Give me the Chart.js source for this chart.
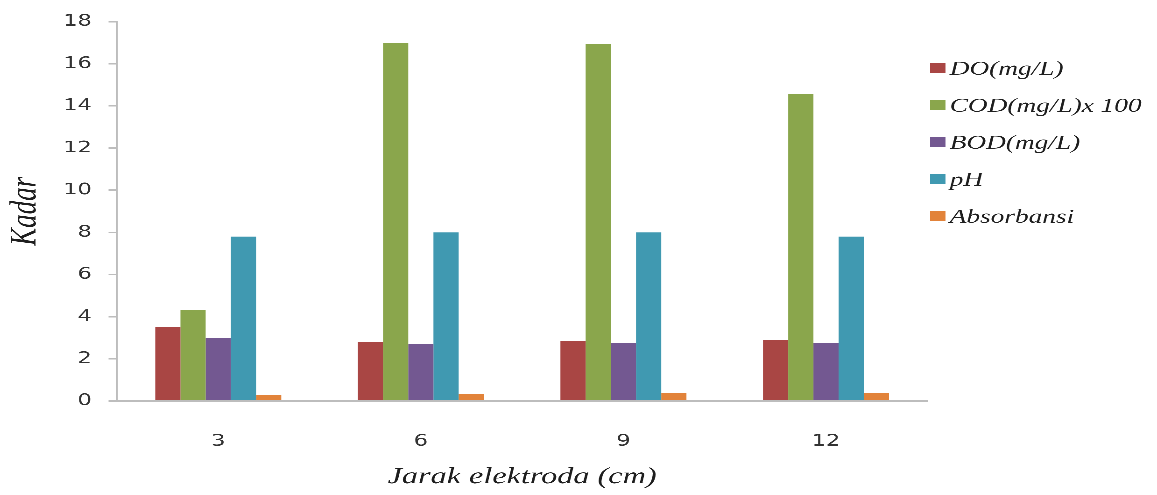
<!DOCTYPE html>
<html>
<head>
<meta charset="utf-8">
<script src="https://cdn.jsdelivr.net/npm/chart.js@4/dist/chart.umd.min.js"></script>
<style>
  html, body { margin: 0; padding: 0; background: #fff; overflow: hidden; }
  /* the chart is laid out on a narrower stage and widened horizontally */
  #stage { width: 826px; height: 495px; transform: scaleX(1.40073); transform-origin: 0 0; }
</style>
</head>
<body>
<div id="stage"><canvas id="c"></canvas></div>
<script>
const categories = ['3', '6', '9', '12'];
const seriesNames = ['DO(mg/L)', 'COD(mg/L)x 100', 'BOD(mg/L)', 'pH', 'Absorbansi'];
const doValues = [3.5, 2.8, 2.85, 2.9];
const codValues = [4.3, 17.0, 16.95, 14.55];
const bodValues = [3.0, 2.7, 2.75, 2.75];
const phValues = [7.8, 8.0, 8.0, 7.8];
const absorbansiValues = [0.28, 0.32, 0.37, 0.37];
const yTicks = [0, 2, 4, 6, 8, 10, 12, 14, 16, 18];
const seriesColors = ['#A94644', '#8AA64C', '#735891', '#4099B1', '#E2833A'];

const seriesValues = [doValues, codValues, bodValues, phValues, absorbansiValues];

// legend drawn to the right of the plot, one entry per dataset
const sideLegend = {
  id: 'sideLegend',
  afterDraw(chart, args, opts) {
    const ctx = chart.ctx;
    ctx.save();
    ctx.font = opts.font;
    ctx.textBaseline = 'middle';
    ctx.textAlign = 'left';
    chart.data.datasets.forEach((ds, i) => {
      const y = opts.y + i * opts.step;
      ctx.fillStyle = ds.backgroundColor;
      ctx.fillRect(opts.x, y - opts.boxH / 2, opts.boxW, opts.boxH);
      ctx.fillStyle = opts.color;
      ctx.fillText(ds.label, opts.x + opts.boxW + opts.gap, y + 1.5);
    });
    ctx.restore();
  }
};

new Chart(document.getElementById('c'), {
  type: 'bar',
  data: {
    labels: categories,
    datasets: seriesNames.map((name, i) => ({
      label: name,
      data: seriesValues[i],
      backgroundColor: seriesColors[i],
      borderWidth: 0,
      categoryPercentage: 0.622,
      barPercentage: 1.0
    }))
  },
  options: {
    responsive: true,
    maintainAspectRatio: false,
    devicePixelRatio: 3,
    animation: false,
    layout: { padding: { top: 19, right: 164, bottom: 0, left: 0 } },
    plugins: {
      legend: { display: false },
      tooltip: { enabled: false },
      sideLegend: {
        x: 664, y: 68, step: 37, boxW: 11, boxH: 10, gap: 3,
        font: 'italic 19.5px "Liberation Serif"', color: '#1e1e1e'
      }
    },
    scales: {
      x: {
        grid: { display: false },
        border: { display: true, color: '#bdbdbd', width: 2 },
        ticks: { color: '#333333', padding: 23, font: { family: '"DejaVu Sans"', size: 16 } },
        title: {
          display: true,
          text: 'Jarak elektroda (cm)',
          color: '#1e1e1e',
          padding: { top: 4, bottom: 4 },
          font: { family: '"Liberation Serif"', style: 'italic', size: 23 }
        },
        afterFit(scale) { scale.height = 94; }
      },
      y: {
        min: 0,
        max: 18,
        afterBuildTicks(scale) { scale.ticks = yTicks.map(v => ({ value: v })); },
        grid: { drawOnChartArea: false, drawTicks: true, tickLength: 6, color: '#bdbdbd', lineWidth: 1.5 },
        border: { display: true, color: '#bdbdbd', width: 1.5 },
        ticks: { color: '#333333', padding: 12, font: { family: '"DejaVu Sans"', size: 16 } },
        title: {
          display: true,
          text: 'Kadar',
          color: '#1e1e1e',
          padding: { top: 2, bottom: 2 },
          font: { family: '"Liberation Serif"', style: 'italic', size: 27 }
        },
        afterFit(scale) { scale.width = 83.5; }
      }
    }
  },
  plugins: [sideLegend]
});
</script>
</body>
</html>
